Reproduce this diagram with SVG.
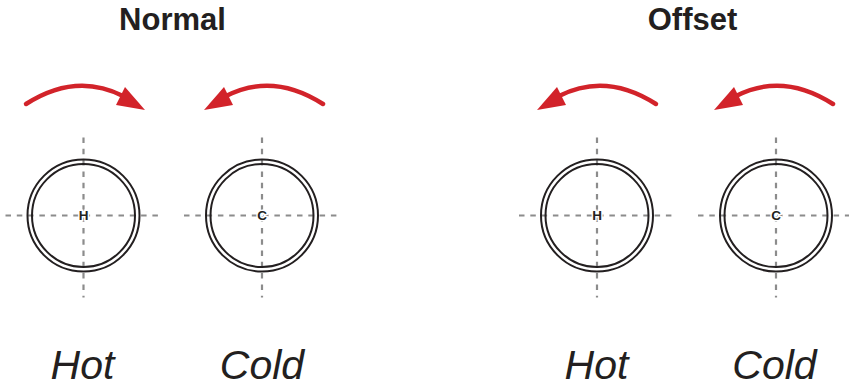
<svg xmlns="http://www.w3.org/2000/svg" xmlns:xlink="http://www.w3.org/1999/xlink" width="849" height="388" viewBox="0 0 849 388">
  <style>
    .title { font-family: "Liberation Sans", Arial, sans-serif; font-weight: bold; font-size: 31px; fill: #231f20; text-anchor: middle; }
    .lbl { font-family: "Liberation Sans", Arial, sans-serif; font-style: italic; font-size: 41px; fill: #231f20; text-anchor: middle; }
    .mark { font-family: "Liberation Sans", Arial, sans-serif; font-weight: bold; font-size: 13.5px; fill: #231f20; text-anchor: middle; stroke: #ffffff; stroke-width: 3; paint-order: stroke; }
    .axis { stroke: #8c8c8c; stroke-width: 2.2; stroke-dasharray: 5.5 5.8; fill: none; }
    .ring { stroke: #231f20; stroke-width: 2; fill: none; }
    .arc { stroke: #d2232a; stroke-width: 4.5; stroke-linecap: round; fill: none; }
    .head { fill: #d2232a; }
  </style>
  <defs>
    <g id="arrowL">
      <path class="arc" d="M119,-6 Q69,-38 22,-14"/>
      <polygon class="head" points="0,0 20,-23 29,-5"/>
    </g>
    <g id="pipe">
      <line class="axis" x1="-78" y1="0" x2="76" y2="0"/>
      <line class="axis" x1="0" y1="-78" x2="0" y2="82"/>
      <circle class="ring" cx="0" cy="0" r="56"/>
      <circle class="ring" cx="0" cy="0" r="51.5"/>
    </g>
  </defs>
  <rect width="849" height="388" fill="#ffffff"/>

  <g id="connectors">
    <use xlink:href="#arrowL" transform="translate(145,110) scale(-1,1)"/>
    <use xlink:href="#arrowL" transform="translate(204,110)"/>
    <use xlink:href="#arrowL" transform="translate(537,110)"/>
    <use xlink:href="#arrowL" transform="translate(714,110)"/>
  </g>

  <g id="title-normal"><text class="title" x="172.5" y="29.5">Normal</text></g>
  <g id="title-offset"><text class="title" x="692.5" y="29.5">Offset</text></g>

  <g id="normal-hot">
    <use xlink:href="#pipe" transform="translate(83.5,215.5)"/>
    <text class="mark" x="83.5" y="220.3">H</text>
    <text class="lbl" x="82.5" y="379">Hot</text>
  </g>
  <g id="normal-cold">
    <use xlink:href="#pipe" transform="translate(262,215.5)"/>
    <text class="mark" x="262" y="220.3">C</text>
    <text class="lbl" x="262" y="379">Cold</text>
  </g>
  <g id="offset-hot">
    <use xlink:href="#pipe" transform="translate(597,215.5)"/>
    <text class="mark" x="597" y="220.3">H</text>
    <text class="lbl" x="596.5" y="379">Hot</text>
  </g>
  <g id="offset-cold">
    <use xlink:href="#pipe" transform="translate(776,215.5)"/>
    <text class="mark" x="776" y="220.3">C</text>
    <text class="lbl" x="774.5" y="379">Cold</text>
  </g>
</svg>
